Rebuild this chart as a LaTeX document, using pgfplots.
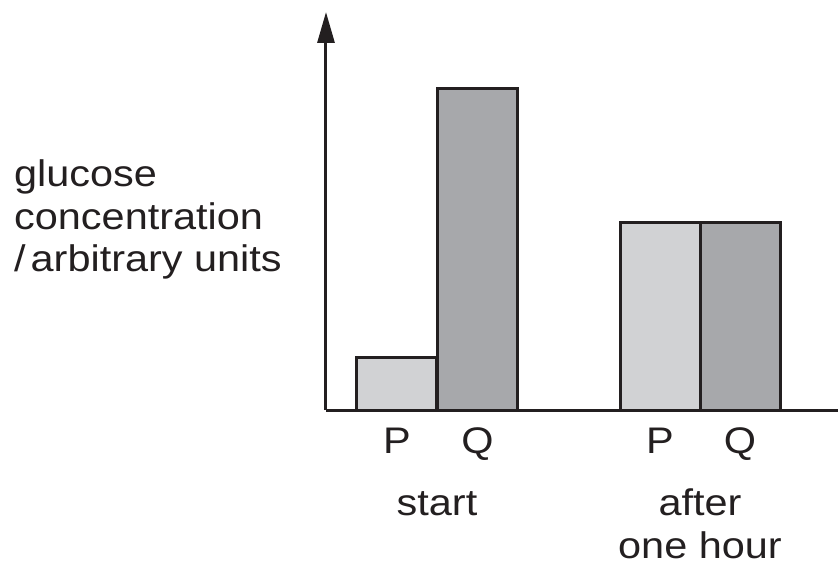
\documentclass[border=0pt]{standalone}
\usepackage{pgfplots}
\pgfplotsset{compat=1.18}
\usepackage{fontspec}
\setmainfont{Liberation Sans}[FakeStretch=1.12]
\usetikzlibrary{arrows.meta}
\definecolor{barP}{HTML}{D1D2D4}
\definecolor{barQ}{HTML}{A7A8AB}
\definecolor{ink}{HTML}{231F20}
\newcommand\lbl{\fontsize{37bp}{44bp}\selectfont}
\begin{document}
\begin{tikzpicture}
\begin{axis}[
 scale only axis, width=512bp, height=398bp,
 xmin=0, xmax=512, ymin=0, ymax=398,
 axis x line=bottom, axis y line=left,
 x axis line style={-, line width=3bp, draw=ink},
 y axis line style={-{Triangle[length=31bp,width=17bp]}, line width=3bp, draw=ink},
 ytick=\empty,
 xtick={71,151.5,334,414}, xticklabels={P,Q,P,Q},
 major tick length=0pt,
 xticklabel style={font=\lbl, anchor=base, yshift=-43bp, text=ink, inner sep=0pt},
 clip=false,
 ybar, bar width=80,
]
\addplot[fill=barP, draw=ink, line width=3bp, bar shift=0pt] coordinates {(71,53) (334,187)};
\addplot[fill=barQ, draw=ink, line width=3bp, bar shift=0pt] coordinates {(151.5,321) (414,187)};
\node[anchor=base, font=\lbl, text=ink, inner sep=0pt] at (axis cs:111,-105) {start};
\node[anchor=base, font=\lbl, text=ink, inner sep=0pt] at (axis cs:374,-105) {after};
\node[anchor=base, font=\lbl, text=ink, inner sep=0pt] at (axis cs:374,-148) {one hour};
\node[anchor=base west, font=\lbl, text=ink, inner sep=0pt] at (axis cs:-312,223) {glucose};
\node[anchor=base west, font=\lbl, text=ink, inner sep=0pt] at (axis cs:-312,180) {concentration};
\node[anchor=base west, font=\lbl, text=ink, inner sep=0pt] at (axis cs:-312,138) {/\kern5bp arbitrary units};
\coordinate (bl) at (axis cs:-326,-159);
\coordinate (tr) at (axis cs:512,410);
\end{axis}
\pgfresetboundingbox
\path[use as bounding box] (bl) rectangle (tr);
\end{tikzpicture}
\end{document}
